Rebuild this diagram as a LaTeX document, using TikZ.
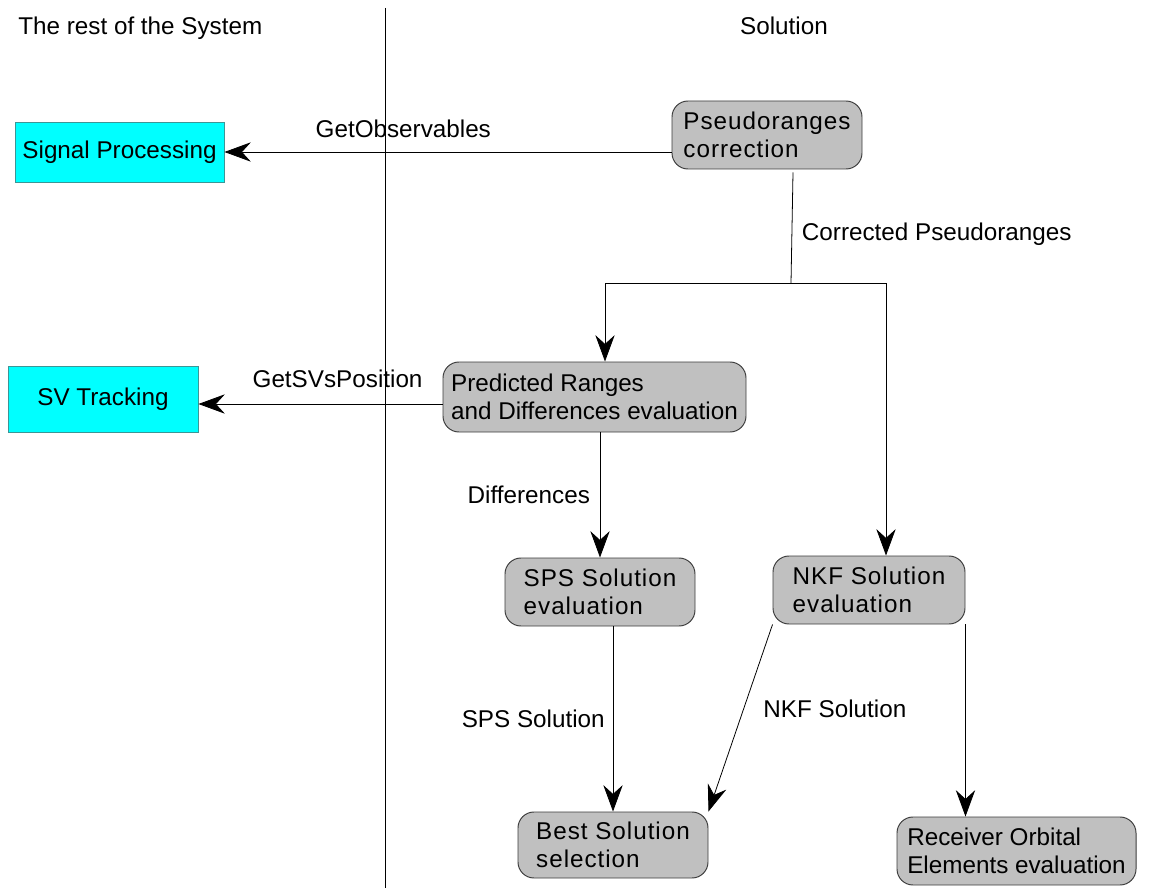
\documentclass[tikz,border=0pt]{standalone}
\usepackage{fontspec}
\setmainfont{Liberation Sans}
\newfontfamily\spacedfont[LetterSpace=4]{Liberation Sans}
\usetikzlibrary{arrows.meta}
\definecolor{boxgray}{RGB}{192,192,192}
\definecolor{boxedge}{RGB}{60,60,60}
\definecolor{extfill}{RGB}{0,255,255}
\definecolor{cyanedge}{RGB}{60,150,150}

\begin{document}
\begin{tikzpicture}[
  font=\fontsize{13.8}{16}\selectfont,
  ext/.style={draw=cyanedge, fill=extfill, line width=0.5pt, minimum height=1.2cm},
  proc/.style={draw=boxedge, fill=boxgray, rounded corners=0.32cm, align=left,
    line width=0.55pt, inner xsep=3pt},
  spaced/.style={font=\spacedfont\fontsize{13.8}{16}\selectfont},
  flow/.style={-{Stealth[length=15pt,width=11pt,inset=5pt]}, line width=0.45pt},
  lbl/.style={inner sep=2pt}
]
  \useasboundingbox (0,0) rectangle (22.98,-17.76);

  % the two sides
  \node[anchor=west, inner sep=0] (resttitle) at (0.36,-0.56) {The rest of the System};
  \node[inner sep=0] (soltitle) at (15.68,-0.52) {Solution};
  \draw[line width=0.5pt] (7.7,-0.16) -- (7.7,-17.76);

  % rest of the system
  \node[ext, minimum width=4.18cm] (sp) at (2.39,-3.04) {Signal Processing};
  \node[ext, minimum width=3.8cm, minimum height=1.32cm] (svt) at (2.06,-7.98) {SV Tracking};

  % solution
  \node[proc, spaced, minimum width=3.8cm, minimum height=1.36cm] (pc) at (15.34,-2.7)
    {Pseudoranges\\correction};
  \node[proc, minimum width=6.06cm, minimum height=1.4cm] (pr) at (11.89,-7.94)
    {Predicted Ranges\\and Differences evaluation};
  \node[proc, spaced, minimum width=3.8cm, minimum height=1.36cm] (sps) at (12.0,-11.84)
    {SPS Solution\\evaluation};
  \node[proc, spaced, minimum width=3.84cm, minimum height=1.36cm] (nkf) at (17.38,-11.8)
    {NKF Solution\\evaluation};
  \node[proc, spaced, minimum width=3.8cm, minimum height=1.32cm] (best) at (12.26,-16.9)
    {Best Solution\\selection};
  \node[proc, minimum width=4.78cm, minimum height=1.36cm] (roe) at (20.33,-17.02)
    {Receiver Orbital\\Elements evaluation};

  \draw[flow] (pc.west |- sp.east) -- (sp.east)
    node[lbl, pos=0.6, above=6pt] {GetObservables};

  \coordinate (pcout) at ([xshift=0.52cm,yshift=-0.06cm]pc.south);
  \coordinate (split) at (15.82,-5.66);
  \draw[line width=0.45pt] (pcout) -- (split)
    node[lbl, pos=0.56, right=3.5pt] {Corrected Pseudoranges};
  \draw[flow] (split) -| ([xshift=0.21cm]pr.north);
  \draw[flow] (split) -| ([xshift=0.34cm]nkf.north);

  \coordinate (svin) at ([yshift=-0.14cm]pr.west);
  \draw[flow] (svin) -- (svin -| svt.east)
    node[lbl, pos=0.43, above=7pt] {GetSVsPosition};

  \draw[flow] (pr.south -| sps.north) -- (sps.north)
    node[lbl, midway, left=3.5pt] {Differences};
  \draw[flow] (sps.south -| best.north) -- (best.north)
    node[lbl, midway, left=2.5pt] {SPS Solution};
  \draw[flow] (nkf.south west) -- (best.north east)
    node[lbl, pos=0.45, right=9pt] {NKF Solution};
  \draw[flow] (nkf.south east) -- (nkf.south east |- roe.north);
\end{tikzpicture}
\end{document}
